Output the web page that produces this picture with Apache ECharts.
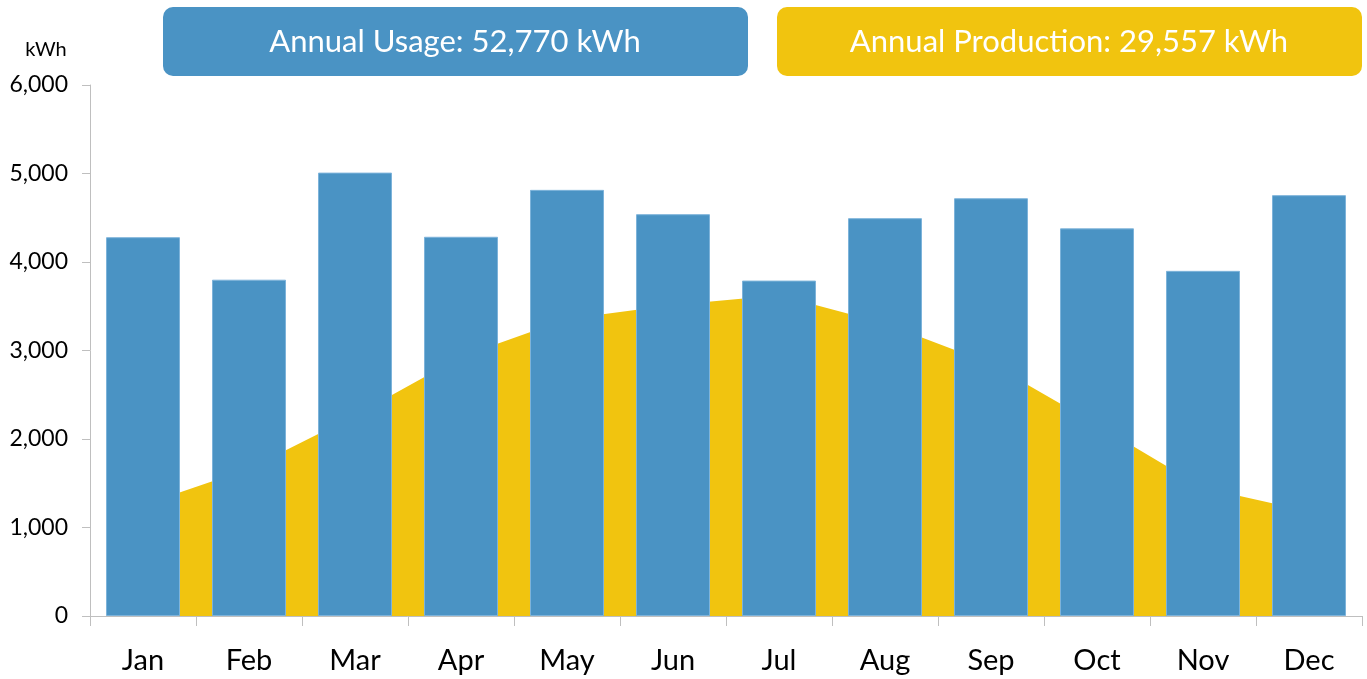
<!DOCTYPE html>
<html>
<head>
<meta charset="utf-8">
<script src="https://cdn.jsdelivr.net/npm/echarts@6/dist/echarts.min.js"></script>
<style>
html,body{margin:0;padding:0;background:#fff;}
#chart{width:1367px;height:679px;}
</style>
</head>
<body>
<div id="chart"></div>
<script>
const categories = ['Jan','Feb','Mar','Apr','May','Jun','Jul','Aug','Sep','Oct','Nov','Dec'];
const usage = [4280, 3800, 5010, 4285, 4815, 4540, 3790, 4495, 4720, 4380, 3900, 4755];
const production = [1255, 1665, 2265, 2930, 3355, 3515, 3625, 3305, 2850, 2160, 1450, 1182];
const usageLabel = 'Annual Usage: 52,770 kWh';
const productionLabel = 'Annual Production: 29,557 kWh';
const unitLabel = 'kWh';

const BLUE = '#4a93c4';
const YELLOW = '#f1c40f';
const AXIS = '#bfbfbf';
const FONT = 'Lato';

const chart = echarts.init(document.getElementById('chart'));
chart.setOption({
  animation: false,
  textStyle: { fontFamily: FONT },
  grid: { left: 90, right: 5, top: 85, bottom: 63, containLabel: false },
  graphic: [
    { type: 'rect', left: 163, top: 7, shape: { width: 585, height: 69, r: 10 }, style: { fill: BLUE } },
    { type: 'text', x: 455, y: 42, style: { text: usageLabel, fill: '#fff', font: '31px ' + FONT, align: 'center', verticalAlign: 'middle' } },
    { type: 'rect', left: 777, top: 7, shape: { width: 585, height: 69, r: 10 }, style: { fill: YELLOW } },
    { type: 'text', x: 1069, y: 42, style: { text: productionLabel, fill: '#fff', font: '31px ' + FONT, align: 'center', verticalAlign: 'middle' } },
    { type: 'text', x: 46, y: 50, style: { text: unitLabel, fill: '#000', font: '20px ' + FONT, align: 'center', verticalAlign: 'middle' } }
  ],
  xAxis: {
    type: 'category',
    data: categories,
    boundaryGap: true,
    axisLine: { lineStyle: { color: AXIS, width: 1 } },
    axisTick: { show: true, alignWithLabel: false, length: 10, lineStyle: { color: AXIS } },
    axisLabel: { color: '#000', fontSize: 29, margin: 30, fontFamily: FONT },
    splitLine: { show: false }
  },
  yAxis: {
    type: 'value',
    min: 0, max: 6000, interval: 1000,
    axisLine: { show: true, lineStyle: { color: AXIS, width: 1 } },
    axisTick: { show: true, length: 8, lineStyle: { color: AXIS } },
    axisLabel: {
      color: '#000', fontSize: 23, margin: 22, fontFamily: FONT,
      formatter: v => v.toLocaleString('en-US')
    },
    splitLine: { show: false }
  },
  series: [
    {
      name: 'Production', type: 'line', data: production,
      symbol: 'none', smooth: false,
      lineStyle: { width: 0, color: YELLOW },
      areaStyle: { color: YELLOW, opacity: 1 },
      itemStyle: { color: YELLOW },
      z: 1
    },
    {
      name: 'Usage', type: 'bar', data: usage,
      barWidth: 74,
      itemStyle: { color: BLUE, borderColor: '#7db3da', borderWidth: 1 },
      z: 2
    }
  ]
});
</script>
</body>
</html>
